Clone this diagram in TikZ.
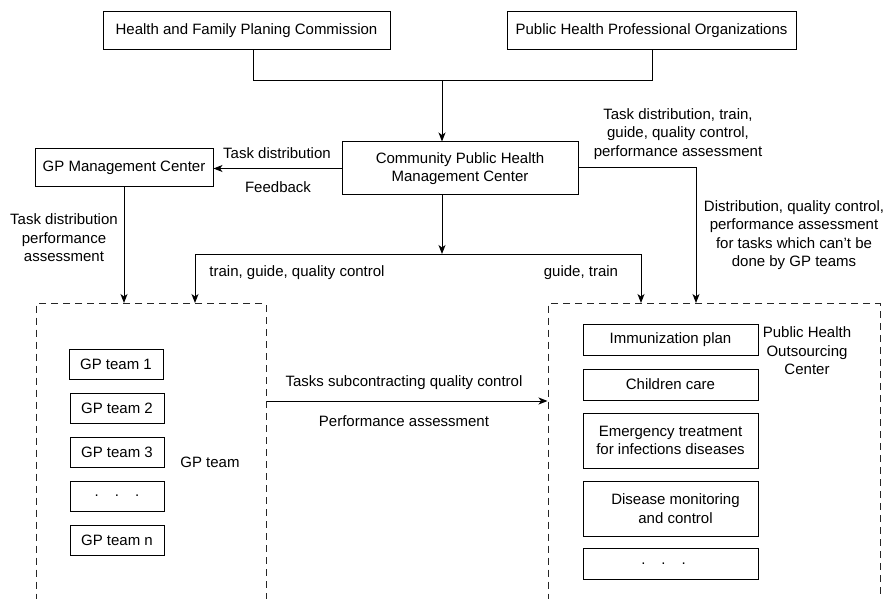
\documentclass[tikz,border=0pt]{standalone}
\usepackage{fontspec}
\setmainfont{Liberation Sans}
\usetikzlibrary{arrows.meta}
\begin{document}
\begin{tikzpicture}[x=1pt,y=-1pt,
  font=\fontsize{15}{18.5}\selectfont,
  line width=1pt,
  box/.style={draw, inner sep=0pt, align=center},
  arr/.style={-{Stealth[length=9pt,width=7pt,inset=2.5pt]}},
  dbox/.style={draw=black!85, dash pattern=on 7pt off 5pt, inner sep=0pt},
  lbl/.style={inner sep=0pt, align=center}]
\useasboundingbox (0,0) rectangle (884,599);
\clip (0,0) rectangle (884,599);

% top boxes
\node[box, minimum width=287pt, minimum height=38pt] (hfpc) at (246.5,31) {Health and Family Planing Commission};
\node[box, minimum width=289pt, minimum height=38pt] (phpo) at (651.5,31) {Public Health Professional Organizations};

% centers
\node[box, minimum width=236pt, minimum height=53pt] (cphmc) at (460,168.5) {Community Public Health\\Management Center};
\node[box, minimum width=178pt, minimum height=38pt] (gpm) at (124,168) {GP Management Center};

% dashed containers
\node[dbox, minimum width=230pt, minimum height=330pt, anchor=north] (gpbox) at (151,303) {};
\node[dbox, minimum width=332pt, minimum height=330pt, anchor=north] (phoc) at (714,303) {};

% GP teams
\node[box, minimum width=94pt, minimum height=30pt] (g1) at (116,364) {GP team 1};
\node[box, minimum width=94pt, minimum height=30pt] (g2) at (117,408) {GP team 2};
\node[box, minimum width=94pt, minimum height=30pt] (g3) at (117,452) {GP team 3};
\node[box, minimum width=94pt, minimum height=30pt] (g4) at (117,496) {.\hspace{16pt}.\hspace{16pt}.};
\node[box, minimum width=94pt, minimum height=30pt] (g5) at (117,540) {GP team n};
\node[lbl] (gplbl) at (210,462) {GP team};

% outsourcing tasks
\node[box, minimum width=175pt, minimum height=31pt] (t1) at (670.5,339.5) {Immunization plan};
\node[box, minimum width=175pt, minimum height=31pt] (t2) at (670.5,384.5) {Children care};
\node[box, minimum width=175pt, minimum height=55pt] (t3) at (670.5,440.5) {Emergency treatment\\for infections diseases};
\node[box, minimum width=175pt, minimum height=55pt] (t4) at (670.5,508.5) {\hspace*{10pt}Disease monitoring\\\hspace*{10pt}and control};
\node[box, minimum width=175pt, minimum height=31pt] (t5) at (670.5,563.5) {.\hspace{16pt}.\hspace{16pt}.\hspace*{14pt}};
\node[lbl] (phlbl) at (807,351) {Public Health\\Outsourcing\\Center};

% labels
\node[lbl] (la) at (678,134) {Task distribution, train,\\guide, quality control,\\performance assessment};
\node[lbl] (lb) at (794,235) {Distribution, quality control,\\performance assessment\\for tasks which can’t be\\done by GP teams};
\node[lbl] (lc) at (277,153) {Task distribution};
\node[lbl] (ld) at (278,187) {Feedback};
\node[lbl] (le) at (64,238) {Task distribution\\performance\\assessment};
\node[lbl] (lf) at (297,273) {train, guide, quality control};
\node[lbl] (lg) at (581,273) {guide, train};
\node[lbl] (lh) at (404,383) {Tasks subcontracting quality control};
\node[lbl] (li) at (404,421) {Performance assessment};

% connectors
\coordinate (jl) at (253,81);
\coordinate (jr) at (652,81);
\coordinate (jm) at (442,81);
\draw (jl |- hfpc.south) -- (jl) -- (jr) -- (jr |- phpo.south);
\draw[arr] (jm) -- (jm |- cphmc.north);

\draw[arr] (cphmc.west) -- (cphmc.west -| gpm.east);

\coordinate (rr) at (696,168);
\draw[arr] (cphmc.east |- rr) -- (rr) -- (rr |- phoc.north);

\coordinate (mb) at (442,254);
\coordinate (bl) at (195,254);
\coordinate (br) at (641,254);
\draw[arr] (mb |- cphmc.south) -- (mb);
\draw[arr] (mb) -- (bl) -- (bl |- gpbox.north);
\draw[arr] (mb) -- (br) -- (br |- phoc.north);

\draw[arr] (gpm.south) -- (gpm.south |- gpbox.north);

\coordinate (my) at (0,401);
\draw[arr] (gpbox.east |- my) -- (phoc.west |- my);
\end{tikzpicture}
\end{document}
